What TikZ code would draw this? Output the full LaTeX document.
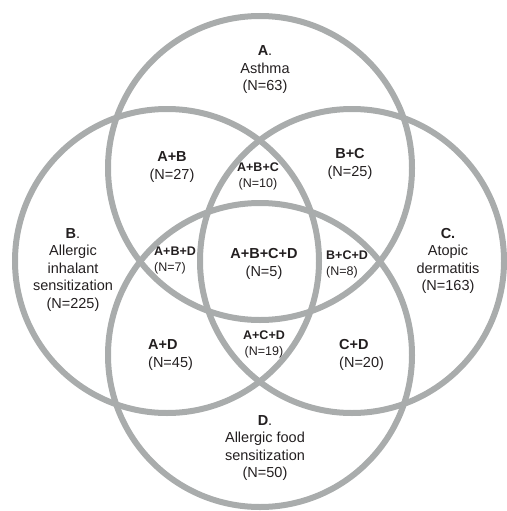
\documentclass[tikz,border=0pt]{standalone}
\usepackage{fontspec}
\setmainfont{Liberation Sans}
\definecolor{ringgray}{HTML}{A9ACAC}
\definecolor{ink}{HTML}{231F20}

\begin{document}
\begin{tikzpicture}[x=1pt,y=-1pt,
  ring/.style={circle, draw=ringgray, line width=6pt, minimum size=304pt, inner sep=0pt},
  big/.style={text=ink, align=center, inner sep=0pt, font=\fontsize{14.5}{17.5}\selectfont},
  small/.style={text=ink, align=center, inner sep=0pt, font=\fontsize{12.5}{16}\selectfont},
  bigleft/.style={big, align=left, anchor=west},
  smallleft/.style={small, align=left, anchor=west},
]
\useasboundingbox (0,0) rectangle (506,511);

% the four sets
\node[ring] (setA) at (260,168) {};
\node[ring] (setB) at (167,261) {};
\node[ring] (setC) at (352,261) {};
\node[ring] (setD) at (260,355) {};

% single sets
\node[big] (lblA) at (265,70) {\textbf{A}.\\Asthma\\(N=63)};
\node[big] (lblB) at (73,270) {\textbf{B}.\\Allergic\\inhalant\\sensitization\\(N=225)};
\node[big] (lblC) at (448,261) {\textbf{C.}\\Atopic\\dermatitis\\(N=163)};
\node[big] (lblD) at (265,448) {\textbf{D}.\\Allergic food\\sensitization\\(N=50)};

% pairs
\node[big] (lblAB) at (172,167) {\textbf{A+B}\\(N=27)};
\node[big] (lblBC) at (350,164) {\textbf{B+C}\\(N=25)};
\node[bigleft] (lblAD) at (148,355) {\textbf{A+D}\\(N=45)};
\node[bigleft] (lblCD) at (339,355) {\textbf{C+D}\\(N=20)};

% triples
\node[small] (lblABC) at (258,176) {\textbf{A+B+C}\\(N=10)};
\node[smallleft] (lblABD) at (154,260) {\textbf{A+B+D}\\(N=7)};
\node[smallleft] (lblBCD) at (326,264) {\textbf{B+C+D}\\(N=8)};
\node[small] (lblACD) at (264,344) {\textbf{A+C+D}\\(N=19)};

% all four
\node[big] (lblABCD) at (264,264) {\textbf{A+B+C+D}\\(N=5)};
\end{tikzpicture}
\end{document}
